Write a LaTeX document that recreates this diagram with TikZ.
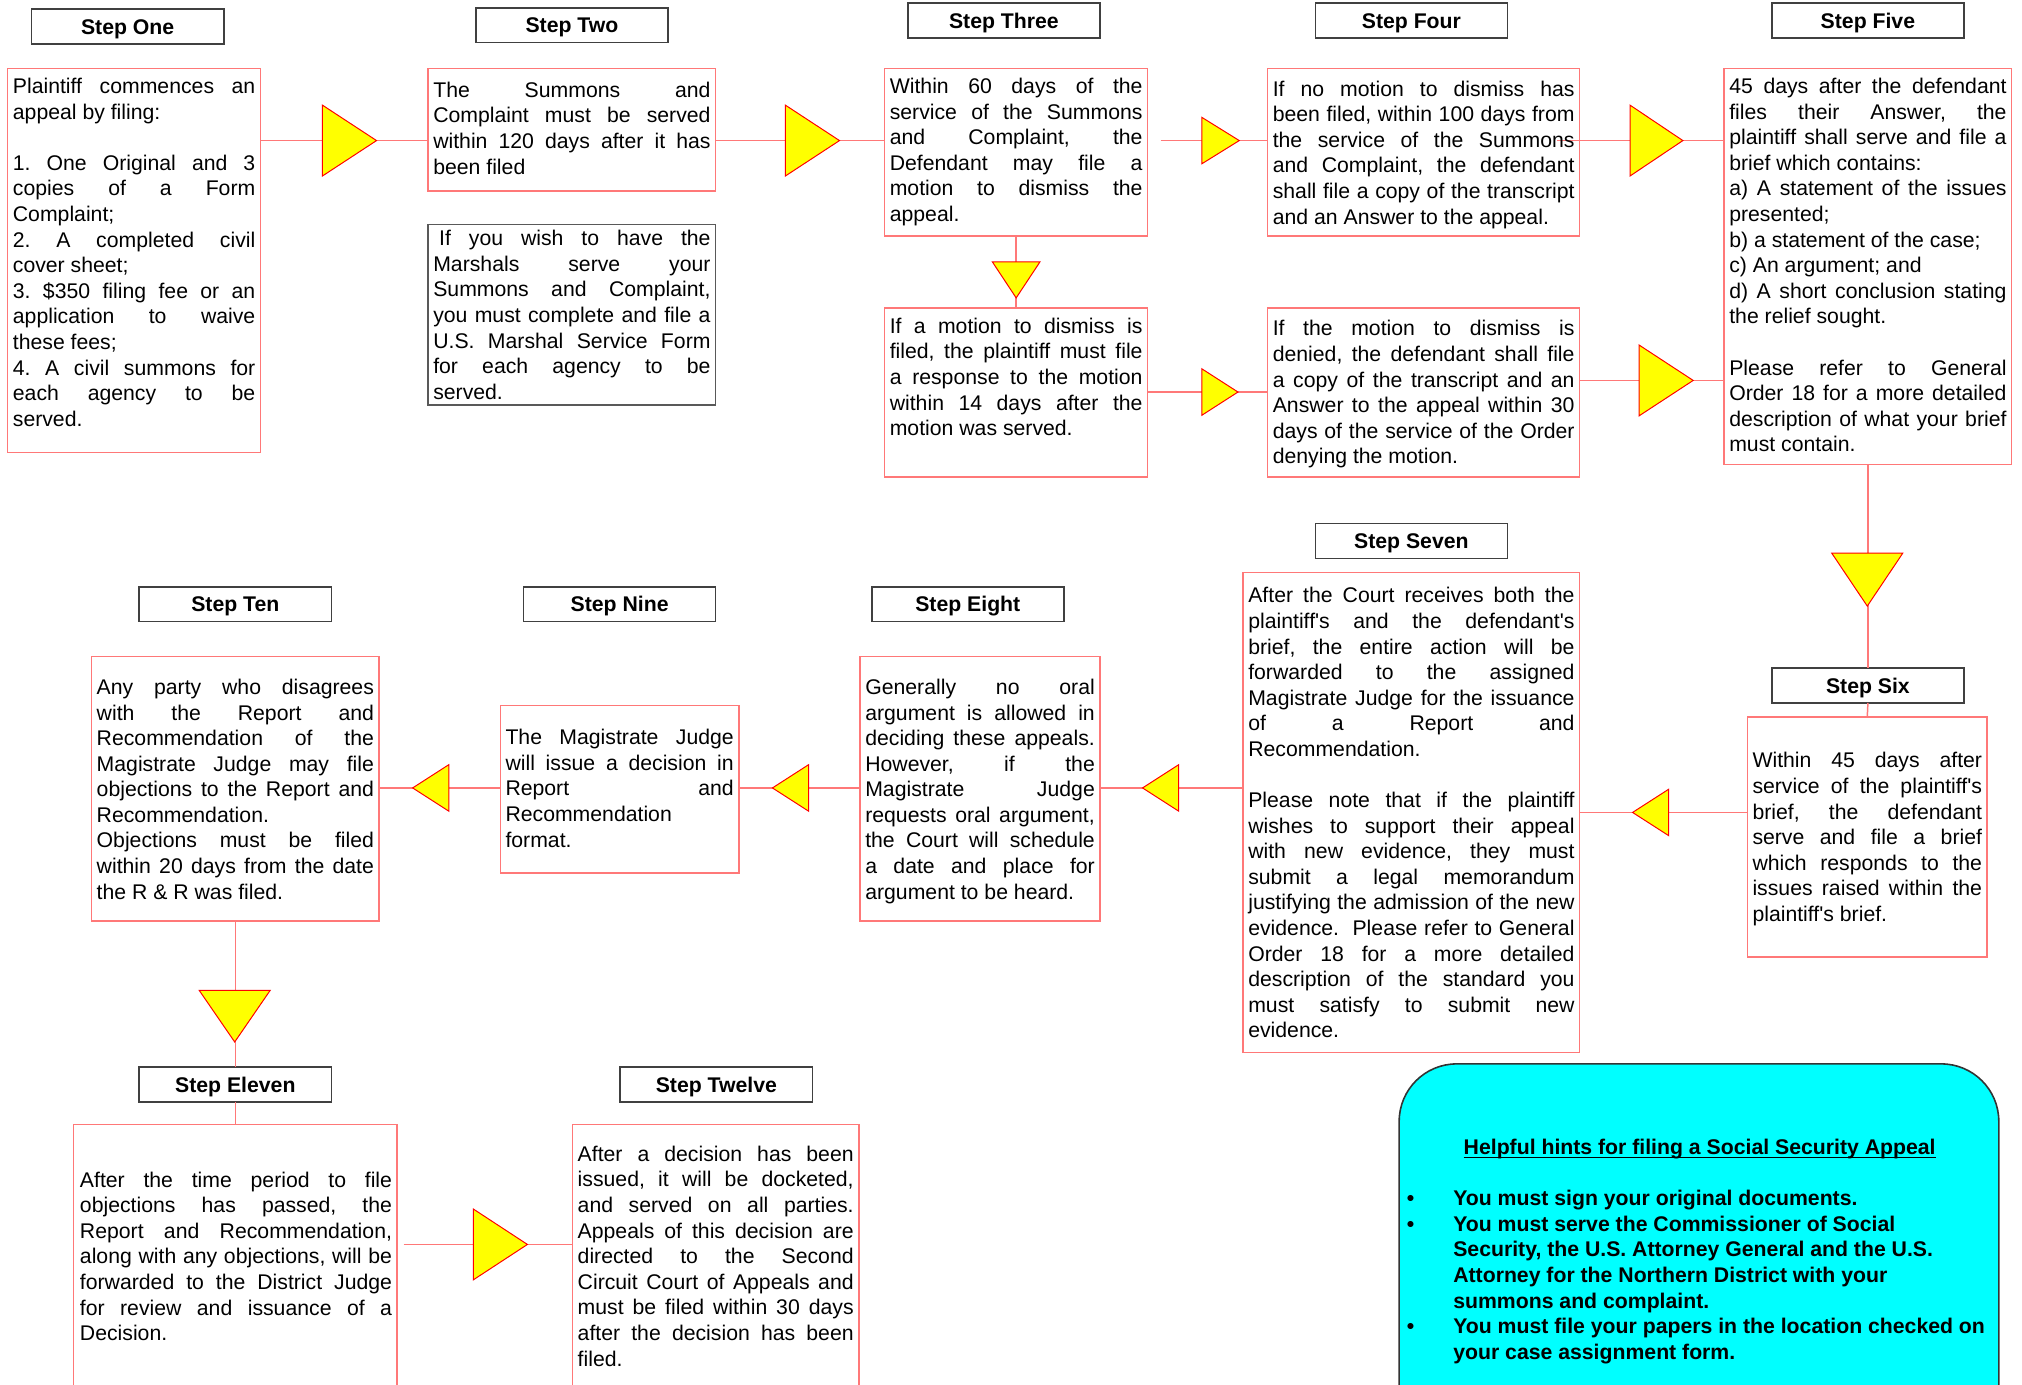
\documentclass[tikz,border=0pt]{standalone}
\usepackage{fontspec}
\setmainfont{Liberation Sans}[Ligatures=TeXOff]
\tolerance=10000 \pretolerance=-1 \hyphenpenalty=10000 \exhyphenpenalty=10000
\frenchspacing
\definecolor{boxred}{RGB}{255,120,120}
\definecolor{trired}{RGB}{255,0,0}
\definecolor{triyel}{RGB}{255,255,0}
\definecolor{hintcyan}{RGB}{0,255,255}
\newlength\un \setlength\un{0.65pt}
\newcommand\nl{\linebreak}
\newcommand\mkbox[6][bodybox]{%
  \node[#1, minimum width={(#5-#3)*0.65pt}, minimum height={(#6-#4)*0.65pt}] (#2) at ({(#3+#5)/2},{(#4+#6)/2}) {};}
\newcommand\mktxt[5]{\node[txt] (#1) at (#2,{#3+1}) {\parbox[t]{#4\un}{#5}};}
\newcommand\mkhdr[4]{\node[hdr] (#1) at (#2,#3) {#4};}
\begin{document}
\begin{tikzpicture}[x=0.65pt,y=-0.65pt,
  every node/.style={inner sep=0pt, outer sep=0pt, font=\fontsize{10.7pt}{12.9pt}\selectfont},
  bodybox/.style={rectangle, draw=boxred, line width=0.75pt, fill=white},
  graybox/.style={rectangle, draw=black!65, line width=0.75pt, fill=white},
  hdr/.style={rectangle, draw=black!75, line width=0.8pt, fill=white, minimum width=149\un, minimum height=27\un, text height=7.7pt, text depth=0pt, font=\fontsize{10.7pt}{12.9pt}\selectfont\bfseries},
  txt/.style={anchor=base west, align=left},
  conn/.style={draw=boxred, line width=0.75pt},
  tri/.style={draw=trired, fill=triyel, line width=0.5pt, line join=miter}]
\useasboundingbox (0,0) rectangle (1568,1074);
\clip (0,0) rectangle (1568,1074);
\fill[white] (0,0) rectangle (1568,1074);

% headers
\mkhdr{h1}{99}{20.5}{Step One}
\mkhdr{h2}{443.5}{19.5}{Step Two}
\mkhdr{h3}{778.5}{16}{Step Three}
\mkhdr{h4}{1094.5}{16}{Step Four}
\mkhdr{h5}{1448.5}{16}{Step Five}
\mkhdr{h6}{1448.5}{531.5}{Step Six}
\mkhdr{h7}{1094.5}{419.5}{Step Seven}
\mkhdr{h8}{750.5}{468.5}{Step Eight}
\mkhdr{h9}{480.5}{468.5}{Step Nine}
\mkhdr{h10}{182.5}{468.5}{Step Ten}
\mkhdr{h11}{182.5}{841}{Step Eleven}
\mkhdr{h12}{555.5}{841}{Step Twelve}

% body boxes
\mkbox{s1}{6}{53}{202}{351}
\mkbox{s2a}{332}{53}{555}{148}
\mkbox[graybox]{s2b}{332}{174}{555}{314}
\mkbox{s3a}{686}{53}{890}{183}
\mkbox{s3b}{686}{239}{890}{370}
\mkbox{s4a}{983}{53}{1225}{183}
\mkbox{s4b}{983}{239}{1225}{370}
\mkbox{s5}{1337}{53}{1560}{360}
\mkbox{s6}{1355}{556}{1541}{742}
\mkbox{s7}{964}{444}{1225}{816}
\mkbox{s8}{667}{509}{853}{714}
\mkbox{s9}{388}{547}{573}{677}
\mkbox{s10}{71}{509}{294}{714}
\mkbox{s11}{57}{872}{308}{1100}
\mkbox{s12}{444}{872}{666}{1100}

% hints box
\node[rectangle, draw=black!80, line width=0.8pt, fill=hintcyan, rounded corners=29pt,
  minimum width=465\un, minimum height=320\un] (hint) at (1317.5,985) {};

% triangle tips
\coordinate (tA) at (292,109);
\coordinate (tB) at (651,109);
\coordinate (tC) at (961,109);
\coordinate (tD) at (1305,109);
\coordinate (tE) at (960,304);
\coordinate (tF) at (1313,295);
\coordinate (tG) at (788,231);
\coordinate (tH) at (1266,630);
\coordinate (tI) at (886,611);
\coordinate (tJ) at (599,611);
\coordinate (tK) at (320,611);
\coordinate (tL) at (409,965);
\coordinate (tM) at (1448,470);
\coordinate (tN) at (182,808);

% connectors
\draw[conn] (s1.east |- tA) -- (s2a.west |- tA);
\draw[conn] (s2a.east |- tB) -- (s3a.west |- tB);
\draw[conn, shorten <=6.5pt] (s3a.east |- tC) -- (s4a.west |- tC);
\draw[conn, shorten <=-11.5pt] (s4a.east |- tD) -- (s5.west |- tD);
\draw[conn] (s3a.south) -- (s3b.north);
\draw[conn] (s3b.east |- tE) -- (s4b.west |- tE);
\draw[conn] (s4b.east |- tF) -- (s5.west |- tF);
\draw[conn] (s5.south) -- (h6.north);
\draw[conn] (h6.south) -- (s6.north);
\draw[conn] (s6.west |- tH) -- (s7.east |- tH);
\draw[conn] (s7.west |- tI) -- (s8.east |- tI);
\draw[conn] (s8.west |- tJ) -- (s9.east |- tJ);
\draw[conn] (s9.west |- tK) -- (s10.east |- tK);
\draw[conn] (s10.south) -- (h11.north);
\draw[conn] (h11.south) -- (s11.north);
\draw[conn, shorten <=3.2pt] (s11.east |- tL) -- (s12.west |- tL);

% triangles: right-pointing
\draw[tri] (tA) -- ++(-42,-27.5) -- ++(0,55) -- cycle;
\draw[tri] (tB) -- ++(-42,-27.5) -- ++(0,55) -- cycle;
\draw[tri] (tC) -- ++(-29,-18) -- ++(0,36) -- cycle;
\draw[tri] (tD) -- ++(-41,-27.5) -- ++(0,55) -- cycle;
\draw[tri] (tE) -- ++(-28,-18) -- ++(0,36) -- cycle;
\draw[tri] (tF) -- ++(-42,-27.5) -- ++(0,55) -- cycle;
\draw[tri] (tL) -- ++(-42,-27.5) -- ++(0,55) -- cycle;
% down-pointing
\draw[tri] (tG) -- ++(-18.5,-28) -- ++(37,0) -- cycle;
\draw[tri] (tM) -- ++(-27.5,-41) -- ++(55,0) -- cycle;
\draw[tri] (tN) -- ++(-27.5,-40) -- ++(55,0) -- cycle;
% left-pointing
\draw[tri] (tH) -- ++(28,-18) -- ++(0,36) -- cycle;
\draw[tri] (tI) -- ++(28,-18) -- ++(0,36) -- cycle;
\draw[tri] (tJ) -- ++(28,-18) -- ++(0,36) -- cycle;
\draw[tri] (tK) -- ++(28,-18) -- ++(0,36) -- cycle;

% texts
\mktxt{t1}{10}{71.5}{188}{Plaintiff commences an\nl appeal by filing:\par\vspace{\baselineskip}
1. One Original and 3\nl copies of a Form\nl Complaint;\par
2. A completed civil\nl cover sheet;\par
3. \$350 filing fee or an\nl application to waive\nl these fees;\par
4. A civil summons for\nl each agency to be\nl served.}

\mktxt{t2a}{336}{74.5}{215}{The Summons and\nl Complaint must be served\nl within 120 days after it has\nl been filed}

\mktxt{t2b}{336}{189.5}{215}{\hspace*{0.28em}If you wish to have the\nl Marshals serve your\nl Summons and Complaint,\nl you must complete and file a\nl U.S. Marshal Service Form\nl for each agency to be\nl served.}

\mktxt{t3a}{690}{71.5}{196}{Within 60 days of the\nl service of the Summons\nl and Complaint, the\nl Defendant may file a\nl motion to dismiss the\nl appeal.}

\mktxt{t3b}{690}{257.5}{196}{If a motion to dismiss is\nl filed, the plaintiff must file\nl a response to the motion\nl within 14 days after the\nl motion was served.}

\mktxt{t4a}{987}{73.5}{234}{If no motion to dismiss has\nl been filed, within 100 days from\nl the service of the Summons\nl and Complaint, the defendant\nl shall file a copy of the transcript\nl and an Answer to the appeal.}

\mktxt{t4b}{987}{259.5}{234}{If the motion to dismiss is\nl denied, the defendant shall file\nl a copy of the transcript and an\nl Answer to the appeal within 30\nl days of the service of the Order\nl denying the motion.}

\mktxt{t5}{1341}{71.5}{215}{45 days after the defendant\nl files their Answer, the\nl plaintiff shall serve and file a\nl brief which contains:\par
a) A statement of the issues\nl presented;\par
b) a statement of the case;\par
c) An argument; and\par
d) A short conclusion stating\nl the relief sought.\par\vspace{\baselineskip}
Please refer to General\nl Order 18 for a more detailed\nl description of what your brief\nl must contain.}

\mktxt{t6}{1359}{594.5}{178}{Within 45 days after\nl service of the plaintiff's\nl brief, the defendant\nl serve and file a brief\nl which responds to the\nl issues raised within the\nl plaintiff's brief.}

\mktxt{t7}{968}{466.5}{253}{After the Court receives both the\nl plaintiff's and the defendant's\nl brief, the entire action will be\nl forwarded to the assigned\nl Magistrate Judge for the issuance\nl of a Report and\nl Recommendation.\par\vspace{\baselineskip}
Please note that if the plaintiff\nl wishes to support their appeal\nl with new evidence, they must\nl submit a legal memorandum\nl justifying the admission of the new\nl evidence.\ \ Please refer to General\nl Order 18 for a more detailed\nl description of the standard you\nl must satisfy to submit new\nl evidence.}

\mktxt{t8}{671}{537.5}{178}{Generally no oral\nl argument is allowed in\nl deciding these appeals.\nl However, if the\nl Magistrate Judge\nl requests oral argument,\nl the Court will schedule\nl a date and place for\nl argument to be heard.}

\mktxt{t9}{392}{576.5}{177}{The Magistrate Judge\nl will issue a decision in\nl Report and\nl Recommendation\nl format.}

\mktxt{t10}{75}{537.5}{215}{Any party who disagrees\nl with the Report and\nl Recommendation of the\nl Magistrate Judge may file\nl objections to the Report and\nl Recommendation.\par
Objections must be filed\nl within 20 days from the date\nl the R \& R was filed.}

\mktxt{t11}{62}{919.5}{242}{After the time period to file\nl objections has passed, the\nl Report and Recommendation,\nl along with any objections, will be\nl forwarded to the District Judge\nl for review and issuance of a\nl Decision.}

\mktxt{t12}{448}{899.5}{214}{After a decision has been\nl issued, it will be docketed,\nl and served on all parties.\nl Appeals of this decision are\nl directed to the Second\nl Circuit Court of Appeals and\nl must be filed within 30 days\nl after the decision has been\nl filed.}

% hints text
\node[anchor=base, font=\fontsize{10.7pt}{12.9pt}\selectfont\bfseries] (htitle) at (1318,895) {Helpful hints for filing a Social Security Appeal};
\draw[line width=0.6pt] ([yshift=-1.8pt]htitle.base west) -- ([yshift=-1.8pt]htitle.base east);
\node[txt, font=\fontsize{10.7pt}{12.9pt}\selectfont\bfseries] (hlist) at (1091,935) {\parbox[t]{455\un}{\raggedright
\hangindent=36\un\hangafter=1\noindent\makebox[36\un][l]{•}You must sign your original documents.\par
\hangindent=36\un\hangafter=1\noindent\makebox[36\un][l]{•}You must serve the Commissioner of Social\newline Security, the U.S. Attorney General and the U.S.\newline Attorney for the Northern District with your\newline summons and complaint.\par
\hangindent=36\un\hangafter=1\noindent\makebox[36\un][l]{•}You must file your papers in the location checked on\newline your case assignment form.}};
\end{tikzpicture}
\end{document}
